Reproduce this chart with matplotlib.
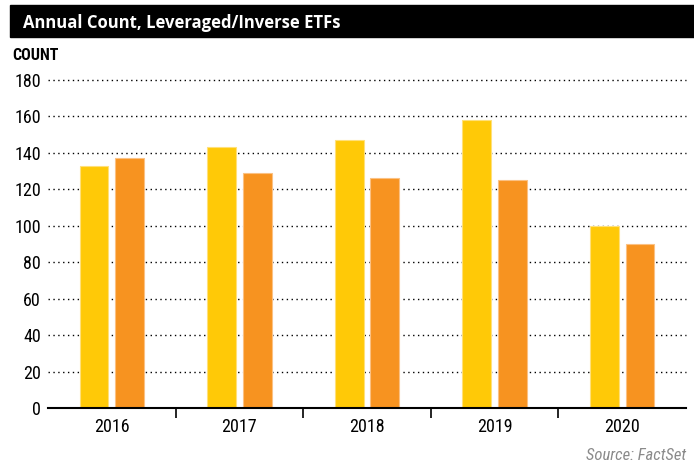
import numpy as np
import matplotlib.pyplot as plt
from matplotlib.patches import Rectangle

# Données
annees = ["2016", "2017", "2018", "2019", "2020"]
serie_a = [133, 143, 147, 158, 100]   # jaune
serie_b = [137, 129, 126, 125, 90]    # orange
yticks = [0, 20, 40, 60, 80, 100, 120, 140, 160, 180]

jaune = "#FFC907"
orange = "#F79320"
police = ["Roboto Condensed", "DejaVu Sans"]

fig = plt.figure(figsize=(6.94, 4.70), dpi=100)

# bandeau du titre
fig.patches.append(Rectangle((10 / 694, 1 - 37 / 470), 684 / 694, 32 / 470,
                             transform=fig.transFigure, color="black", zorder=0))
fig.text(23 / 694, 1 - 23 / 470, "Annual Count, Leveraged/Inverse ETFs", color="white",
         fontsize=12, fontweight="bold", family=["Open Sans", "DejaVu Sans"], va="center")
fig.text(12 / 694, 1 - 55 / 470, "COUNT", fontsize=11.5, fontweight="bold",
         family=police, va="center")
fig.text(686 / 694, 1 - 455 / 470, "Source: FactSet", fontsize=12, style="italic",
         color="#8a8a8a", family=police, ha="right", va="center")

ax = fig.add_axes([48 / 694, 1 - 408 / 470, 638 / 694, 328 / 470])
x = np.arange(len(annees))
larg = 0.226
ax.bar(x - 0.14, serie_a, width=larg, color=jaune, edgecolor="#FFE07A", linewidth=0.8, zorder=2)
ax.bar(x + 0.14, serie_b, width=larg, color=orange, edgecolor="#FBC183", linewidth=0.8, zorder=2)

ax.set_xlim(-0.5, len(annees) - 0.5)
ax.set_ylim(0, 180)
ax.set_yticks(yticks)
ax.set_yticklabels([str(v) for v in yticks], family=police, fontsize=13)
ax.set_xticks(x)
ax.set_xticklabels(annees, family=police, fontsize=13)
ax.set_xticks(np.arange(0.5, len(annees) - 1, 1), minor=True)
ax.tick_params(axis="x", which="major", length=0, pad=7)
ax.tick_params(axis="x", which="minor", length=7, width=1.2, color="black", direction="out")
ax.tick_params(axis="y", length=0, pad=5)

for v in yticks[1:]:
    ax.axhline(v, color="black", linestyle=(0, (1, 2.5)), linewidth=1, zorder=1, clip_on=False)

for s in ["top", "right", "left"]:
    ax.spines[s].set_visible(False)
ax.spines["bottom"].set_linewidth(1.5)
ax.spines["bottom"].set_zorder(3)

fig.savefig("out.png", dpi=100)
